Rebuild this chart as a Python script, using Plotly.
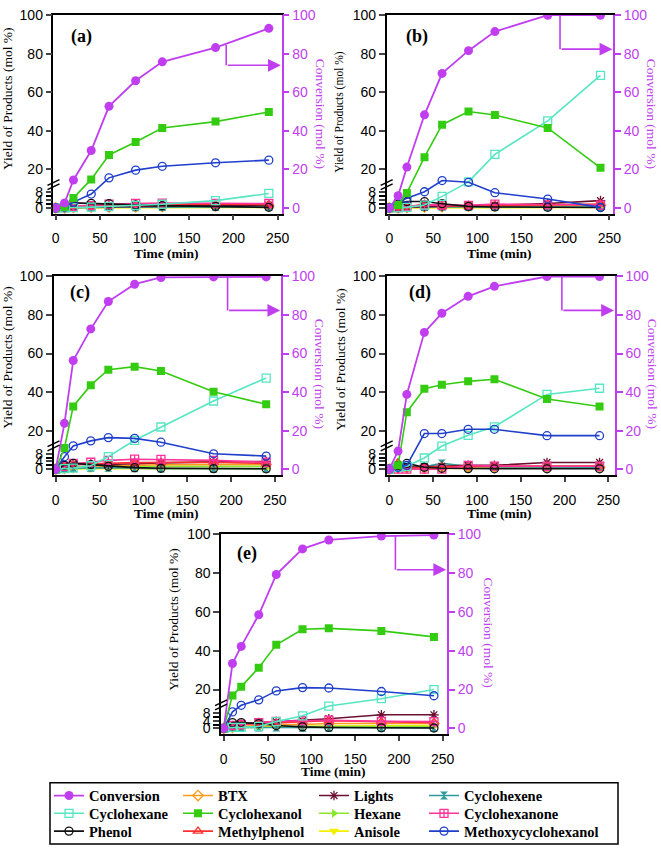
import plotly.graph_objects as go

# ---------------- data ----------------
time_min = [0, 10, 20, 40, 60, 90, 120, 180, 240]
series_names = ["Conversion", "BTX", "Lights", "Cyclohexene",
                "Cyclohexane", "Cyclohexanol", "Hexane", "Cyclohexanone",
                "Phenol", "Methylphenol", "Anisole", "Methoxycyclohexanol"]
panel_labels = ["(a)", "(b)", "(c)", "(d)", "(e)"]
x_ticks = [0, 50, 100, 150, 200, 250]
y_ticks_left = [0, 4, 8, 20, 40, 60, 80, 100]
y_minor_left = [2, 6]
y_ticks_right = [0, 20, 40, 60, 80, 100]

panel_a = {
    "Conversion": [0, 2.6, 14.5, 29.8, 52.7, 66.0, 75.8, 83.2, 93.2],
    "BTX": [0, 0, 0.3, 0.4, 0.5, 0.6, 0.7, 0.9, 1.0],
    "Lights": [0, 0, 0.4, 0.5, 0.7, 0.9, 1.1, 1.3, 1.5],
    "Cyclohexene": [0, 0, 0.2, 0.3, 0.4, 0.4, 0.5, 0.5, 0.5],
    "Cyclohexane": [0, 0, 0.2, 0.4, 0.8, 1.3, 1.9, 3.8, 7.5],
    "Cyclohexanol": [0, 0.5, 5.2, 14.8, 27.5, 34.2, 41.5, 44.8, 49.8],
    "Hexane": [0, 0, 0.2, 0.3, 0.4, 0.5, 0.6, 0.7, 0.8],
    "Cyclohexanone": [0, 0.2, 0.8, 1.2, 2.0, 2.4, 2.5, 2.4, 2.3],
    "Phenol": [0, 0.3, 2.6, 2.4, 2.2, 1.6, 1.2, 0.8, 0.3],
    "Methylphenol": [0, 0.2, 0.8, 1.0, 1.3, 1.6, 1.8, 1.9, 1.9],
    "Anisole": [0, 0, 0.1, 0.2, 0.2, 0.3, 0.3, 0.3, 0.3],
    "Methoxycyclohexanol": [0, 0.5, 3.0, 7.2, 15.6, 19.6, 21.6, 23.4, 24.8],
}
panel_b = {
    "Conversion": [0, 6.3, 21.2, 48.3, 69.8, 81.6, 91.5, 100, 100],
    "BTX": [0, 0, 0.3, 0.5, 0.7, 0.9, 1.0, 1.2, 1.5],
    "Lights": [0, 0, 0.3, 0.6, 0.8, 1.0, 1.4, 2.3, 3.8],
    "Cyclohexene": [0, 0.3, 0.5, 0.5, 0.6, 0.5, 0.5, 0.5, 0.5],
    "Cyclohexane": [0, 0, 0.3, 1.5, 6.0, 13.5, 27.8, 45.2, 68.8],
    "Cyclohexanol": [0, 1.5, 7.8, 26.3, 43.2, 50.0, 48.2, 41.5, 20.8],
    "Hexane": [0, 0, 0.2, 0.4, 0.6, 0.8, 1.0, 1.2, 1.3],
    "Cyclohexanone": [0, 0.2, 0.6, 1.6, 1.5, 1.3, 2.0, 1.6, 1.5],
    "Phenol": [0, 2.0, 3.3, 3.3, 2.2, 0.8, 0.5, 0.3, 0.2],
    "Methylphenol": [0, 0.1, 0.5, 2.0, 1.0, 1.0, 1.2, 1.5, 2.0],
    "Anisole": [0, 0, 0.1, 0.2, 0.2, 0.3, 0.3, 0.3, 0.3],
    "Methoxycyclohexanol": [0, 3.2, 5.0, 8.4, 14.2, 13.3, 7.9, 4.6, 0.3],
}
panel_c = {
    "Conversion": [0, 23.8, 56.4, 72.8, 87.0, 96.0, 99.5, 99.8, 99.8],
    "BTX": [0, 0.5, 1.0, 1.5, 1.8, 2.0, 2.3, 2.5, 2.5],
    "Lights": [0, 2.0, 2.6, 2.4, 2.4, 2.8, 3.3, 3.8, 4.0],
    "Cyclohexene": [0, 0.5, 0.6, 0.8, 0.8, 0.5, 0.3, 0.3, 0.3],
    "Cyclohexane": [0, 0.3, 0.6, 1.8, 6.5, 15.0, 21.9, 35.4, 47.3],
    "Cyclohexanol": [0, 11.0, 32.6, 43.6, 51.6, 53.2, 51.0, 40.2, 33.7],
    "Hexane": [0, 0.1, 0.3, 0.5, 1.0, 1.4, 1.5, 1.5, 1.5],
    "Cyclohexanone": [0, 1.5, 3.0, 3.6, 4.6, 5.2, 5.1, 4.6, 3.6],
    "Phenol": [0, 2.0, 3.0, 2.4, 1.5, 0.8, 0.5, 0.3, 0.2],
    "Methylphenol": [0, 1.5, 2.5, 2.6, 3.0, 3.4, 3.5, 3.6, 3.0],
    "Anisole": [0, 0.2, 0.3, 0.3, 0.3, 0.3, 0.3, 0.3, 0.3],
    "Methoxycyclohexanol": [0, 6.5, 12.1, 14.7, 16.4, 16.0, 14.0, 8.0, 6.8],
}
panel_d = {
    "Conversion": [0, 9.4, 38.8, 71.0, 80.9, 89.7, 94.9, 100, 100],
    "BTX": [0, 0.5, 0.5, 0.6, 0.8, 1.0, 1.0, 1.1, 1.1],
    "Lights": [0, 0.5, 1.0, 1.2, 1.5, 2.0, 2.0, 3.5, 3.5],
    "Cyclohexene": [0, 1.0, 1.0, 1.2, 3.0, 1.5, 1.2, 1.0, 1.0],
    "Cyclohexane": [0, 1.0, 1.5, 5.8, 12.0, 17.6, 22.0, 38.8, 42.0],
    "Cyclohexanol": [0, 2.0, 29.6, 41.7, 43.8, 45.6, 46.7, 36.4, 32.5],
    "Hexane": [0, 3.0, 0.5, 1.0, 1.4, 1.5, 1.5, 1.5, 1.5],
    "Cyclohexanone": [0, 0, 0, 0, 0, 2.0, 1.6, 1.5, 1.5],
    "Phenol": [0, 2.0, 3.0, 1.0, 0.5, 0.3, 0.2, 0.2, 0.2],
    "Methylphenol": [0, 3.5, 0.5, 1.0, 1.2, 1.5, 1.5, 1.6, 1.6],
    "Anisole": [0, 0.2, 0.2, 0.4, 0.5, 0.5, 0.5, 0.5, 0.5],
    "Methoxycyclohexanol": [0, 1.0, 2.0, 18.5, 18.5, 20.7, 20.7, 17.4, 17.4],
}
panel_e = {
    "Conversion": [0, 33.4, 42.2, 58.5, 79.2, 92.4, 97.0, 99.0, 99.5],
    "BTX": [0, 0.5, 1.0, 1.5, 2.0, 2.0, 2.5, 2.5, 2.5],
    "Lights": [0, 1.0, 2.0, 3.0, 3.5, 4.0, 5.0, 7.0, 7.0],
    "Cyclohexene": [0, 0.5, 0.5, 0.5, 0.5, 0.3, 0.3, 0.3, 0.3],
    "Cyclohexane": [0, 0.5, 0.5, 1.0, 3.5, 6.5, 11.5, 15.3, 20.0],
    "Cyclohexanol": [0, 17.0, 21.5, 31.2, 43.0, 51.0, 51.5, 50.2, 47.1],
    "Hexane": [0, 0.3, 0.5, 0.5, 0.8, 1.0, 1.0, 1.0, 1.0],
    "Cyclohexanone": [0, 1.5, 2.0, 3.0, 3.6, 4.0, 4.2, 3.6, 3.5],
    "Phenol": [0, 3.0, 3.0, 2.5, 1.5, 0.8, 0.5, 0.3, 0.2],
    "Methylphenol": [0, 1.5, 2.0, 2.5, 3.0, 3.5, 4.0, 3.5, 3.0],
    "Anisole": [0, 0.3, 0.5, 0.8, 1.0, 1.0, 1.2, 1.5, 1.5],
    "Methoxycyclohexanol": [0, 8.5, 11.9, 14.7, 19.3, 21.0, 20.8, 19.0, 16.8],
}
panels = [panel_a, panel_b, panel_c, panel_d, panel_e]

# ---------------- style ----------------
PURPLE = "#C03EF0"
styles = {
    "Conversion": dict(color=PURPLE, symbol="circle", size=9),
    "BTX": dict(color="#FF9A1A", symbol="diamond-open", size=8),
    "Lights": dict(color="#6B1030", symbol="asterisk-open", size=8),
    "Cyclohexene": dict(color="#2E9A9A", symbol="hourglass", size=8),
    "Cyclohexane": dict(color="#55E6C3", symbol="square-open", size=8),
    "Cyclohexanol": dict(color="#33CC11", symbol="square", size=8),
    "Hexane": dict(color="#8AE62E", symbol="triangle-right", size=8),
    "Cyclohexanone": dict(color="#FF3399", symbol="square-cross-open", size=8),
    "Phenol": dict(color="#111111", symbol="circle-open", size=8),
    "Methylphenol": dict(color="#FF3030", symbol="triangle-up-open", size=8),
    "Anisole": dict(color="#F2F000", symbol="triangle-down", size=9),
    "Methoxycyclohexanol": dict(color="#1F3FCC", symbol="circle-open", size=8),
}
draw_order = ["Anisole", "Hexane", "BTX", "Cyclohexene", "Lights", "Methylphenol",
              "Cyclohexanone", "Phenol", "Cyclohexane", "Methoxycyclohexanol",
              "Cyclohexanol", "Conversion"]

W, H = 661, 848
ML, MR = 40, 40
GW = W - ML - MR


def fx(px):
    return (px - ML) / GW


def fy(py):
    return 1 - py / H


# pixel geometry per panel: x=0 pixel, px per minute, x range, y=0 pixel, px per unit, y range
geoms = [
    dict(p0=55.7, s=0.888, xr=(-2.5, 254.5), q0=202.3, t=1.95, yr=(-3, 100.3)),
    dict(p0=389.3, s=0.880, xr=(-3, 254.5), q0=202.3, t=1.95, yr=(-3, 100.3)),
    dict(p0=55.7, s=0.877, xr=(-2.5, 257), q0=466.7, t=1.95, yr=(-3, 100.3)),
    dict(p0=389.3, s=0.876, xr=(-3, 257.5), q0=466.7, t=1.95, yr=(-3, 100.3)),
    dict(p0=223.7, s=0.876, xr=(-3, 255), q0=729.0, t=1.966, yr=(-3, 100.3)),
]
# text positions (pixels)
label_pos = [(81, 29), (417, 29), (80, 288), (420, 288), (247, 552)]
ytitle_pos = [(8, 92, 13.5), (340, 105, 11.5), (8, 354, 13.5), (341, 356, 13.5), (174, 619, 13.5)]
ctitle_pos = [(320, 107), (651, 107), (319, 370), (652, 370), (488, 632)]
xtitle_pos = [(166, 248), (500, 248), (166, 512), (500, 512), (333, 773)]
arrow_spec = [(192, 84.5, 74), (194, 100, 82.4), (196, 100, 82.4), (197, 100, 82.4), (196, 99, 81.7)]

# legend grid: (text-start pixel x, row-centre pixel y) for each series
legend_cols_x = [97, 226, 362, 472]
legend_rows_y = [797, 815, 833]
legend_box = (50, 784, 618, 846)

fig = go.Figure()
layout = dict(width=W, height=H, margin=dict(l=ML, r=MR, t=0, b=0),
              paper_bgcolor="white", plot_bgcolor="rgba(0,0,0,0)",
              showlegend=True)
annotations = []
shapes = []
tickfont = dict(family="Liberation Sans, Arial, sans-serif", size=14, color="black")

legend_id = {}
for k, name in enumerate(series_names):
    lid = "legend" if k == 0 else f"legend{k+1}"
    legend_id[name] = lid
    col, row = k % 4, k // 4
    layout[lid] = dict(x=fx(legend_cols_x[col] - 48), y=fy(legend_rows_y[row]),
                       xanchor="left", yanchor="middle", orientation="v",
                       bgcolor="rgba(0,0,0,0)", borderwidth=0,
                       font=dict(family="Liberation Serif, serif", size=14.5,
                                 color="black", weight="bold"))

for i, (pdata, g) in enumerate(zip(panels, geoms), start=1):
    xid = "x" if i == 1 else f"x{i}"
    yl = 2 * i - 1
    yr = 2 * i
    ylid = "y" if yl == 1 else f"y{yl}"
    yrid = f"y{yr}"
    x0px = g["p0"] + g["xr"][0] * g["s"]
    x1px = g["p0"] + g["xr"][1] * g["s"]
    y0px = g["q0"] - g["yr"][0] * g["t"]
    y1px = g["q0"] - g["yr"][1] * g["t"]
    xdom = [fx(x0px), fx(x1px)]
    ydom = [fy(y0px), fy(y1px)]

    layout["xaxis" if i == 1 else f"xaxis{i}"] = dict(
        domain=xdom, range=list(g["xr"]), anchor=ylid,
        tickvals=x_ticks, ticks="outside", ticklen=5, tickwidth=1.5,
        showline=True, linecolor="black", linewidth=1.5, mirror=True,
        showgrid=False, zeroline=False, tickfont=tickfont, ticklabelstandoff=6)
    layout["yaxis" if yl == 1 else f"yaxis{yl}"] = dict(
        domain=ydom, range=list(g["yr"]), anchor=xid,
        tickvals=y_ticks_left, ticktext=[str(v) for v in y_ticks_left],
        ticks="outside", ticklen=6, tickwidth=1.5,
        minor=dict(tickvals=y_minor_left, ticks="outside", ticklen=6, tickwidth=1.5, tickcolor="black"),
        showline=True, linecolor="black", linewidth=1.5,
        showgrid=False, zeroline=False, tickfont=tickfont)
    layout[f"yaxis{yr}"] = dict(
        overlaying=ylid, side="right", anchor=xid, range=list(g["yr"]),
        tickvals=y_ticks_right, ticks="outside", ticklen=6, tickwidth=1.5,
        tickcolor=PURPLE, showline=True, linecolor=PURPLE, linewidth=1.5,
        showgrid=False, zeroline=False,
        tickfont=dict(family="Liberation Sans, Arial, sans-serif", size=14, color=PURPLE))

    for name in draw_order:
        st = styles[name]
        is_open = st["symbol"].endswith("-open")
        marker = dict(symbol=st["symbol"], size=st["size"], color=st["color"],
                      line=dict(color=st["color"], width=1.3 if is_open else 0))
        fig.add_trace(go.Scatter(
            x=time_min, y=pdata[name], mode="lines+markers", name=name,
            line=dict(color=st["color"], width=1.6 if name != "Conversion" else 1.8),
            marker=marker, xaxis=xid, yaxis=(yrid if name == "Conversion" else ylid),
            legendgroup=name, showlegend=(i == 1), legend=legend_id[name]))

    # panel label
    lx, ly = label_pos[i - 1]
    annotations.append(dict(text=f"<b>{panel_labels[i-1]}</b>", xref="paper", yref="paper",
                            x=fx(lx), y=fy(ly), showarrow=False, xanchor="center", yanchor="middle",
                            font=dict(family="Liberation Serif, serif", size=18, color="black")))
    # left title
    tx, ty, tsz = ytitle_pos[i - 1]
    annotations.append(dict(text="Yield of Products (mol %)", xref="paper", yref="paper",
                            x=fx(tx), y=fy(ty), showarrow=False, textangle=-90,
                            xanchor="center", yanchor="middle",
                            font=dict(family="Liberation Serif, serif", size=tsz, color="black")))
    # right title
    cx, cy = ctitle_pos[i - 1]
    annotations.append(dict(text="Conversion (mol %)", xref="paper", yref="paper",
                            x=fx(cx), y=fy(cy), showarrow=False, textangle=90,
                            xanchor="center", yanchor="middle",
                            font=dict(family="Liberation Serif, serif", size=13.5, color=PURPLE)))
    # x title
    ax_, ay_ = xtitle_pos[i - 1]
    annotations.append(dict(text="<b>Time (min)</b>", xref="paper", yref="paper",
                            x=fx(ax_), y=fy(ay_), showarrow=False,
                            xanchor="center", yanchor="middle",
                            font=dict(family="Liberation Serif, serif", size=13.5, color="black")))
    # conversion arrow
    xv, ytop, ybot = arrow_spec[i - 1]
    shapes.append(dict(type="line", xref=xid, yref=yrid, x0=xv, x1=xv, y0=ytop, y1=ybot,
                       line=dict(color=PURPLE, width=1.6)))
    annotations.append(dict(text="", xref=xid, yref=yrid, x=g["xr"][1] - 1, y=ybot,
                            axref=xid, ayref=yrid, ax=xv, ay=ybot, showarrow=True,
                            arrowhead=2, arrowsize=1.6, arrowwidth=1.6, arrowcolor=PURPLE))
    # axis break marks
    wpx = x1px - x0px
    dref = f"{xid} domain"
    for off in (0, 2.2):
        shapes.append(dict(type="line", xref=dref, yref=ylid,
                           x0=-6 / wpx, x1=6 / wpx, y0=9.5 + off, y1=12.5 + off,
                           line=dict(color="black", width=1.5)))

# legend frame
bx0, by0, bx1, by1 = legend_box
shapes.append(dict(type="rect", xref="paper", yref="paper",
                   x0=fx(bx0), x1=fx(bx1), y0=fy(by1), y1=fy(by0),
                   line=dict(color="black", width=1.5), fillcolor="rgba(0,0,0,0)"))

layout["annotations"] = annotations
layout["shapes"] = shapes
fig.update_layout(**layout)
fig.write_html("out.html",
               config={"displayModeBar": False},
               post_script="document.body.style.margin='0';document.body.style.overflow='hidden';")
